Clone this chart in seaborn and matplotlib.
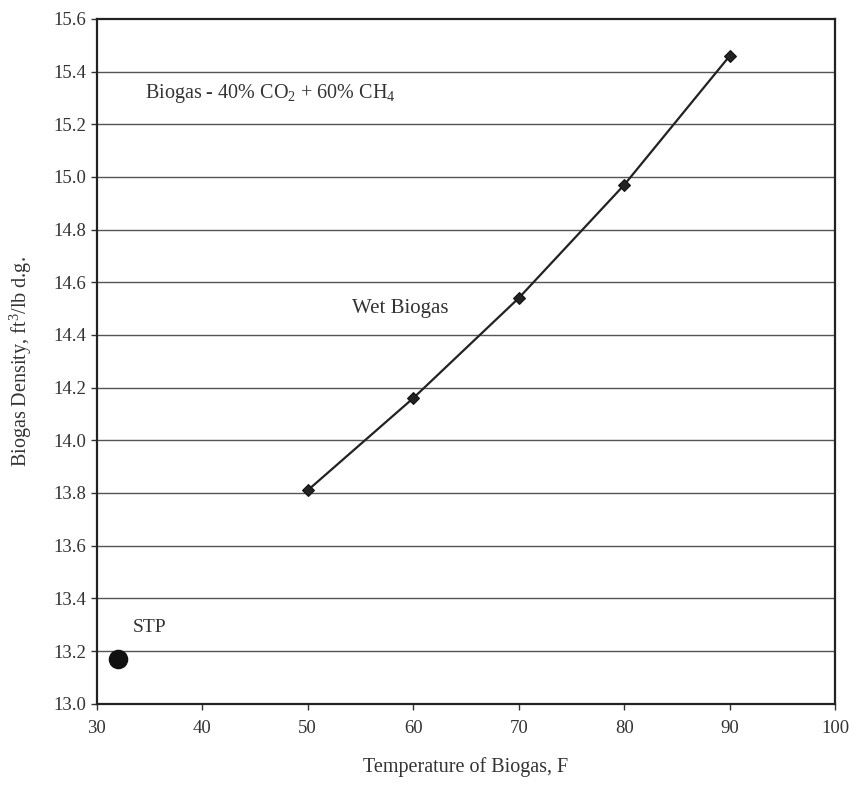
import pandas as pd
import seaborn as sns
import numpy as np
import matplotlib
matplotlib.use('Agg')
import matplotlib.pyplot as plt

# wet biogas density vs temperature
temp_f = [50, 60, 70, 80, 90]
density = [13.81, 14.16, 14.54, 14.97, 15.46]
# standard temperature and pressure point
stp_temp = [32]
stp_density = [13.17]

y_ticks = [13.0, 13.2, 13.4, 13.6, 13.8, 14.0, 14.2, 14.4, 14.6, 14.8, 15.0, 15.2, 15.4, 15.6]
x_ticks = [30, 40, 50, 60, 70, 80, 90, 100]

sns.set_theme(style="white")
plt.rcParams['font.family'] = ['Liberation Serif', 'DejaVu Serif']
plt.rcParams['mathtext.fontset'] = 'custom'
plt.rcParams['mathtext.rm'] = 'Liberation Serif'
plt.rcParams['mathtext.it'] = 'Liberation Serif:italic'

df = pd.DataFrame({'Temperature': temp_f, 'Density': density})
df_stp = pd.DataFrame({'Temperature': stp_temp, 'Density': stp_density})

fig = plt.figure(figsize=(8.55, 7.88), dpi=100)
ax = fig.add_axes([0.113, 0.107, 0.864, 0.869])

for yv in y_ticks[1:-1]:
    ax.axhline(yv, color='#555555', lw=1.0, zorder=0)

sns.lineplot(data=df, x='Temperature', y='Density', ax=ax, color='#222222',
             lw=1.6, marker='D', markersize=6, markeredgecolor='#111111')
sns.scatterplot(data=df_stp, x='Temperature', y='Density', ax=ax, color='#111111',
                s=170, edgecolor='#111111', zorder=5)

ax.set_xlim(30, 100)
ax.set_ylim(13.0, 15.6)
ax.set_xticks(x_ticks)
ax.set_yticks(y_ticks)
ax.set_yticklabels([f'{v:.1f}' for v in y_ticks])
ax.tick_params(axis='both', direction='out', length=4, width=1, color='#333333',
               labelsize=13.5, labelcolor='#333333', bottom=True, left=True)
ax.tick_params(axis='x', pad=8)
for sp in ax.spines.values():
    sp.set_color('#222222')
    sp.set_linewidth(1.6)

ax.set_xlabel('Temperature of Biogas, F', fontsize=14.5, color='#333333', labelpad=14)
ax.set_ylabel('Biogas Density, ft$^3$/lb d.g.', fontsize=14.5, color='#333333', labelpad=14)

ax.text(34.6, 15.315, 'Biogas - 40% CO$_2$ + 60% CH$_4$', fontsize=14.5, color='#333333', va='center')
ax.text(54.2, 14.5, 'Wet Biogas', fontsize=15, color='#333333', va='center')
ax.text(33.4, 13.29, 'STP', fontsize=14, color='#333333', va='center')

fig.savefig('out.png', dpi=100)
